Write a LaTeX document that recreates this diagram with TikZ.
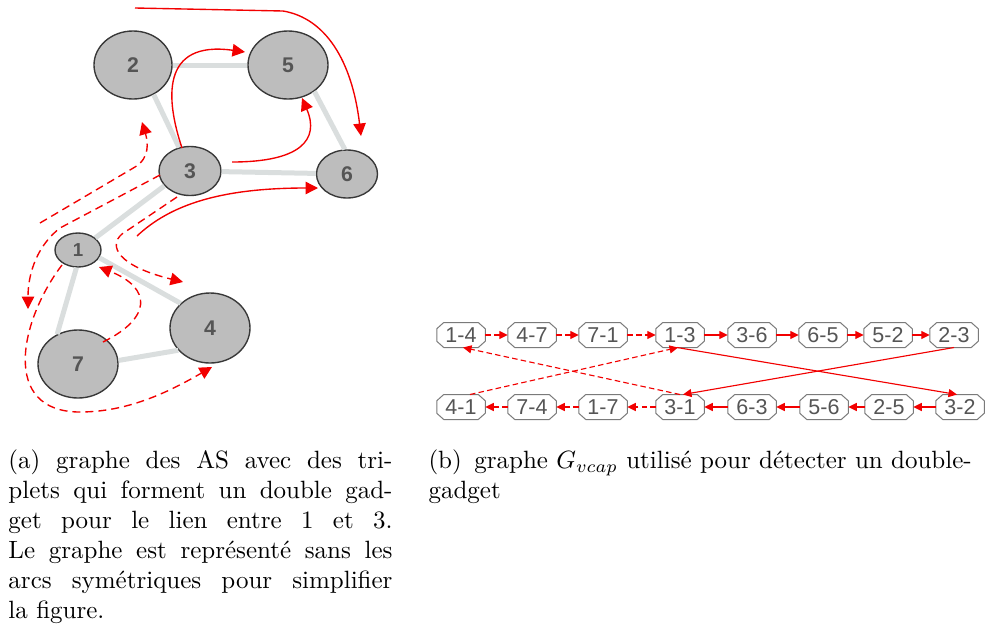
\documentclass[tikz,border=0pt]{standalone}
\usepackage{fontspec}
\newfontfamily\arialf{Liberation Sans}
\usetikzlibrary{arrows.meta,shapes.geometric}
\definecolor{redc}{HTML}{F20000}
\definecolor{edgegray}{HTML}{DADEDE}
\definecolor{nodefill}{HTML}{BDBDBD}
\definecolor{nodeline}{HTML}{383838}
\definecolor{txtgray}{HTML}{555555}
\definecolor{boxline}{HTML}{7A7A7A}
\begin{document}
\begin{tikzpicture}[x=0.4pt,y=-0.4pt,
 asnode/.style={ellipse,draw=nodeline,line width=0.55pt,fill=nodefill,inner sep=0pt,font=\arialf\bfseries\fontsize{8.5}{10}\selectfont,text=txtgray},
 asedge/.style={draw=edgegray,line width=2pt},
 redsolid/.style={draw=redc,line width=0.55pt,-{Triangle[length=5pt,width=5pt]}},
 reddash/.style={redsolid,dash pattern=on 3.2pt off 2pt},
 vbox/.style={rectangle,minimum width=19pt,minimum height=9.6pt,inner sep=0pt,font=\arialf\fontsize{8.6}{10}\selectfont,text=txtgray},
 octo/.style={draw=boxline,line width=0.4pt},
 varr/.style={draw=redc,line width=0.45pt,-{Triangle[length=3.4pt,width=3.2pt]}},
 vdash/.style={varr,dash pattern=on 2.2pt off 1.3pt},
 captext/.style={anchor=north west,inner sep=0pt,align=left,font=\fontsize{10}{12}\selectfont}
]
\useasboundingbox (0,0) rectangle (985,634);

% ---------- left graph: AS nodes ----------
\node[asnode,minimum width=31.2pt,minimum height=27.2pt] (n2) at (133,65) {2};
\node[asnode,minimum width=32pt,minimum height=27.2pt] (n5) at (288,65) {5};
\node[asnode,minimum width=24.8pt,minimum height=19.6pt] (n3) at (190,171) {3};
\node[asnode,minimum width=24.4pt,minimum height=19.2pt] (n6) at (347,174) {6};
\node[asnode,minimum width=18.4pt,minimum height=13.6pt,font=\arialf\bfseries\fontsize{7.5}{9}\selectfont] (n1) at (78,250) {1};
\node[asnode,minimum width=32pt,minimum height=28pt] (n4) at (210,328) {4};
\node[asnode,minimum width=32pt,minimum height=27.2pt] (n7) at (78,364) {7};

% gray links
\draw[asedge] (n2) -- (n5);
\draw[asedge] (n2.-55) -- (n3.115);
\draw[asedge] (n5.-45) -- (n6.95);
\draw[asedge] (n3) -- (n6);
\draw[asedge] (n3.210) -- (n1.35);
\draw[asedge] (n1.-20) -- (n4.140);
\draw[asedge] (n1.-95) -- (n7.125);
\draw[asedge] (n7.5) -- (n4.215);

% solid red triplets
\coordinate (s1a) at (135,8);
\coordinate (s1b) at (283,11);
\coordinate (s1c) at (361,136);
\draw[redsolid] (s1a) -- (s1b) .. controls (325,18) and (352,60) .. (s1c);
\coordinate (s2a) at (182,148);
\coordinate (s2b) at (245,52);
\draw[redsolid] (s2a) .. controls (166,100) and (160,40) .. (s2b);
\coordinate (s3a) at (232,162);
\coordinate (s3b) at (302,98);
\draw[redsolid] (s3a) .. controls (300,162) and (320,140) .. (s3b);
\coordinate (s4a) at (137,236);
\coordinate (s4b) at (318,188);
\draw[redsolid] (s4a) .. controls (170,205) and (220,188) .. (s4b);

% dashed red triplets
\coordinate (d1a) at (40,223);
\coordinate (d1b) at (142,122);
\draw[reddash] (d1a) -- (135,167) .. controls (150,158) and (148,142) .. (d1b);
\coordinate (d2a) at (160,175);
\coordinate (d2b) at (28,309);
\draw[reddash] (d2a) -- (60,228) .. controls (38,245) and (28,272) .. (d2b);
\coordinate (d3a) at (177,197);
\coordinate (d3b) at (183,282);
\draw[reddash] (d3a) -- (122,234) .. controls (108,246) and (118,266) .. (d3b);
\coordinate (d4a) at (103,342);
\coordinate (d4b) at (99,267);
\draw[reddash] (d4a) .. controls (152,318) and (152,288) .. (d4b);
\coordinate (d5a) at (62,265);
\coordinate (d5b) at (212,367);
\draw[reddash] (d5a) .. controls (20,320) and (0,412) .. (80,412) .. controls (130,412) and (172,390) .. (d5b);

% ---------- right graph: G_vcap ----------
\foreach \nm/\lab/\xx in {a/1-4/461, b/4-7/532, c/7-1/603, d/1-3/680, e/3-6/752, f/6-5/823, g/5-2/888, h/2-3/954}
  \node[vbox] (t\nm) at (\xx,335) {\lab};
\foreach \nm/\lab/\xx in {a/4-1/461, b/7-4/532, c/1-7/603, d/3-1/680, e/6-3/752, f/5-6/824, g/2-5/889, h/3-2/960}
  \node[vbox] (b\nm) at (\xx,407) {\lab};
\foreach \nn in {ta,tb,tc,td,te,tf,tg,th,ba,bb,bc,bd,be,bf,bg,bh}
  \draw[octo] ([xshift=2.8pt]\nn.north west) -- ([xshift=-2.8pt]\nn.north east)
    -- ([yshift=-2.5pt]\nn.north east) -- ([yshift=2.5pt]\nn.south east)
    -- ([xshift=-2.8pt]\nn.south east) -- ([xshift=2.8pt]\nn.south west)
    -- ([yshift=2.5pt]\nn.south west) -- ([yshift=-2.5pt]\nn.north west) -- cycle;

\draw[vdash] (ta) -- (tb);
\draw[vdash] (tb) -- (tc);
\draw[vdash] (tc) -- (td);
\draw[varr] (td) -- (te);
\draw[varr] (te) -- (tf);
\draw[varr] (tf) -- (tg);
\draw[varr] (tg) -- (th);

\draw[varr] (bh) -- (bg);
\draw[varr] (bg) -- (bf);
\draw[varr] (bf) -- (be);
\draw[varr] (be) -- (bd);
\draw[vdash] (bd) -- (bc);
\draw[vdash] (bc) -- (bb);
\draw[vdash] (bb) -- (ba);

\draw[vdash] (bd.north) -- ([xshift=0.8pt]ta.south);
\draw[vdash] ([xshift=3.6pt]ba.north) -- ([xshift=-0.8pt]td.south);
\draw[varr] ([xshift=-1.2pt]td.south) -- ([xshift=-1.2pt]bh.north);
\draw[varr] (th.south) -- ([xshift=1.2pt]bd.north);

% ---------- captions ----------
\node[captext] (capa) at (8,449) {%
\makebox[153.6pt][s]{(a) graphe des AS avec des tri-}\\
\makebox[153.6pt][s]{plets qui forment un double gad-}\\
\makebox[153.6pt][s]{get pour le lien entre 1 et 3.}\\
\makebox[153.6pt][s]{Le graphe est représenté sans les}\\
\makebox[153.6pt][s]{arcs symétriques pour simplifier}\\
la figure.};
\node[captext] (capb) at (428,449) {(b)\hspace{0.5em}graphe $G_{vcap}$ utilisé pour détecter un double-\\gadget};
\end{tikzpicture}
\end{document}
